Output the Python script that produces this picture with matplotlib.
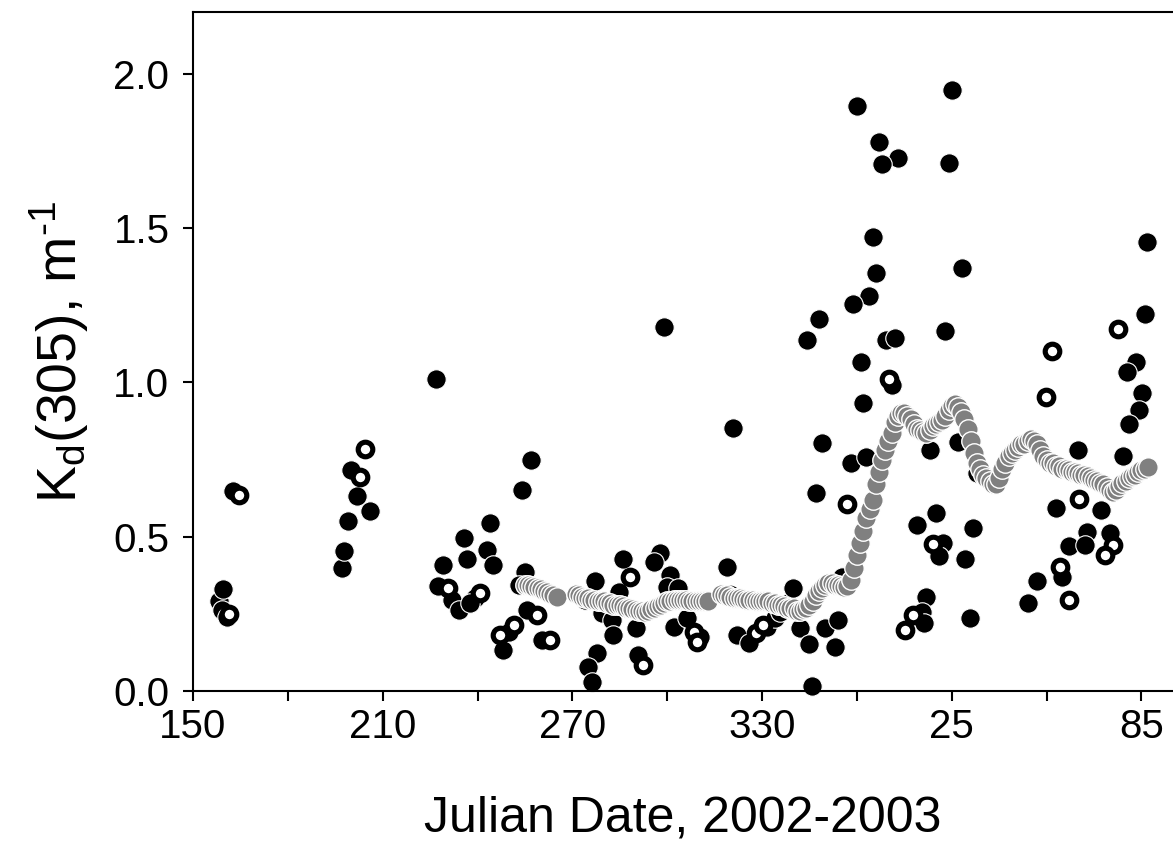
import numpy as np
import matplotlib.pyplot as plt

plt.rcParams['font.family'] = ['Liberation Sans', 'DejaVu Sans']
plt.rcParams['mathtext.default'] = 'regular'

# daily Kd(305) values, filled symbols (Julian day, counted on past 365 into 2003)
fill_day = [158.1, 159.6, 159.2, 160.7, 162.8,
            197.1, 197.9, 198.9, 200.0, 202.0, 206.0,
            226.9, 229.0, 227.6, 231.9, 234.0, 235.8, 236.8, 239.2, 237.7, 243.0,
            244.0, 245.0, 254.0, 256.9, 255.0, 253.0, 255.8, 248.2, 250.0, 260.3,
            277.2, 274.0, 277.7, 275.0, 276.1, 285.9, 284.6, 279.3, 282.5, 283.0,
            290.1, 290.9, 297.7, 295.8, 300.9, 299.8, 303.5, 299.1, 302.0, 306.2,
            310.5, 320.9, 318.8, 322.0, 326.0, 331.5, 334.0, 335.7, 338.3, 339.9,
            342.0, 348.9, 358.0, 362.9, 347.1, 345.0, 349.9, 354.1, 353.1, 345.7,
            355.2, 360.1, 367.1, 373.1, 368.1, 365.1, 366.0, 363.9, 358.8, 348.0,
            344.1, 369.2, 372.0, 361.2, 371.0, 362.0, 390.2, 389.1, 393.1, 388.0,
            383.1, 392.0, 397.9, 385.0, 378.9, 387.1, 386.0, 396.8, 394.2, 381.8,
            380.5, 381.2, 395.8, 451.9, 451.3, 448.2, 445.3, 450.3, 449.2, 446.1,
            430.0, 444.2, 422.9, 437.2, 432.8, 440.0, 427.2, 432.1, 425.0, 417.0,
            414.2]
fill_kd = [0.293, 0.332, 0.263, 0.240, 0.648,
           0.400, 0.455, 0.552, 0.716, 0.632, 0.583,
           1.010, 0.408, 0.341, 0.295, 0.263, 0.495, 0.427, 0.300, 0.284, 0.457,
           0.543, 0.408, 0.652, 0.749, 0.387, 0.344, 0.263, 0.133, 0.190, 0.165,
           0.357, 0.295, 0.122, 0.079, 0.030, 0.427, 0.322, 0.252, 0.230, 0.180,
           0.203, 0.117, 0.448, 0.419, 0.376, 0.338, 0.333, 1.178, 0.208, 0.235,
           0.175, 0.853, 0.403, 0.180, 0.154, 0.208, 0.235, 0.257, 0.284, 0.333,
           0.203, 0.803, 0.740, 0.757, 0.643, 0.152, 0.203, 0.230, 0.142, 0.016,
           0.370, 1.894, 1.778, 1.727, 1.708, 1.471, 1.354, 1.280, 1.254, 1.205,
           1.138, 1.138, 1.145, 1.065, 0.990, 0.933, 1.946, 1.711, 1.370, 1.165,
           0.781, 0.808, 0.706, 0.576, 0.538, 0.480, 0.439, 0.527, 0.427, 0.306,
           0.257, 0.219, 0.236, 1.456, 1.222, 1.067, 1.033, 0.965, 0.909, 0.865,
           0.781, 0.762, 0.592, 0.587, 0.516, 0.511, 0.471, 0.473, 0.370, 0.357,
           0.286]

# open symbols
open_day = [161.3, 164.4, 202.9, 204.5, 230.8, 240.8, 251.4, 247.2, 258.8, 263.0,
            288.3, 292.5, 308.5, 309.5, 319.9, 328.0, 330.4, 356.8, 370.2, 384.2,
            377.8, 375.2, 442.6, 421.6, 419.7, 430.3, 440.9, 438.4, 424.1, 427.2]
open_kd = [0.250, 0.635, 0.693, 0.783, 0.333, 0.317, 0.214, 0.180, 0.246, 0.165,
           0.370, 0.084, 0.190, 0.160, 0.310, 0.187, 0.214, 0.606, 1.010, 0.476,
           0.246, 0.198, 1.172, 1.103, 0.954, 0.621, 0.473, 0.441, 0.403, 0.295]

# running mean (grey)
mean_day = (list(range(255, 266)) + list(range(271, 314)) + list(range(317, 453)))
mean_kd = [0.345, 0.342, 0.340, 0.337, 0.335, 0.330, 0.325, 0.320, 0.315, 0.310, 0.305,
           # 271-313
           0.315, 0.310, 0.305, 0.300, 0.300, 0.295, 0.295, 0.290, 0.290, 0.290,
           0.285, 0.285, 0.280, 0.280, 0.280, 0.275, 0.270, 0.270, 0.265, 0.263,
           0.260, 0.258, 0.257, 0.260, 0.265, 0.270, 0.275, 0.280, 0.285, 0.290,
           0.290, 0.295, 0.295, 0.295, 0.295, 0.295, 0.290, 0.290, 0.290, 0.290,
           0.290, 0.290, 0.290,
           # 317-339
           0.315, 0.310, 0.310, 0.305, 0.300, 0.300, 0.300, 0.298, 0.295, 0.295,
           0.295, 0.290, 0.290, 0.290, 0.290, 0.290, 0.285, 0.285, 0.280, 0.280,
           0.275, 0.270, 0.270,
           # 340-398
           0.270, 0.260, 0.260, 0.265, 0.270, 0.280, 0.290, 0.310, 0.325, 0.335,
           0.345, 0.350, 0.350, 0.345, 0.344, 0.340, 0.338, 0.340, 0.360, 0.400,
           0.440, 0.480, 0.520, 0.560, 0.590, 0.620, 0.670, 0.710, 0.750, 0.780,
           0.810, 0.835, 0.870, 0.890, 0.900, 0.900, 0.890, 0.880, 0.865, 0.850,
           0.845, 0.840, 0.835, 0.845, 0.860, 0.865, 0.870, 0.878, 0.890, 0.910,
           0.925, 0.930, 0.920, 0.905, 0.880, 0.850, 0.810, 0.770, 0.740,
           # 399-452
           0.720, 0.700, 0.690, 0.680, 0.670, 0.670, 0.690, 0.720, 0.740, 0.760,
           0.770, 0.780, 0.790, 0.800, 0.800, 0.810, 0.815, 0.810, 0.800, 0.780,
           0.760, 0.750, 0.740, 0.740, 0.730, 0.730, 0.720, 0.720, 0.715, 0.710,
           0.710, 0.705, 0.700, 0.700, 0.695, 0.690, 0.685, 0.680, 0.675, 0.670,
           0.660, 0.650, 0.645, 0.650, 0.665, 0.675, 0.680, 0.690, 0.695, 0.700,
           0.710, 0.715, 0.720, 0.725]

xticks = [150, 210, 270, 330, 390, 450]
xticklabels = ['150', '210', '270', '330', '25', '85']
yticks = [0.0, 0.5, 1.0, 1.5, 2.0]

fig = plt.figure(figsize=(11.73, 8.48), dpi=100)
ax = fig.add_axes([193/1173, 1 - 691/848, 1 - 193/1173, (691 - 12)/848])

ax.plot(fill_day, fill_kd, 'o', ms=14, mfc='black', mec='white', mew=0.8, ls='none', clip_on=False)
ax.plot(open_day, open_kd, 'o', ms=10.5, mfc='white', mec='black', mew=3.7, ls='none', clip_on=False)
ax.plot(mean_day, mean_kd, 'o', ms=14, mfc='#808080', mec='white', mew=1.0, ls='none', clip_on=False)

ax.set_xlim(150, 460)
ax.set_ylim(0, 2.2)
ax.set_xticks(xticks)
ax.set_xticklabels(xticklabels)
ax.set_xticks([180, 240, 300, 360, 420], minor=True)
ax.set_yticks(yticks)
ax.set_yticklabels(['%.1f' % v for v in yticks])

ax.spines['right'].set_visible(False)
for s in ['left', 'bottom', 'top']:
    ax.spines[s].set_linewidth(1.5)
ax.tick_params(which='both', direction='out', length=7, width=1.5, labelsize=29)
ax.tick_params(axis='x', pad=5)
ax.tick_params(axis='y', pad=10)

ax.set_xlabel('Julian Date, 2002-2003', fontsize=36, labelpad=36)
ax.set_ylabel('K$_d$(305), m$^{\u20101}$', fontsize=40, labelpad=16)

fig.savefig('out.png', dpi=100)
